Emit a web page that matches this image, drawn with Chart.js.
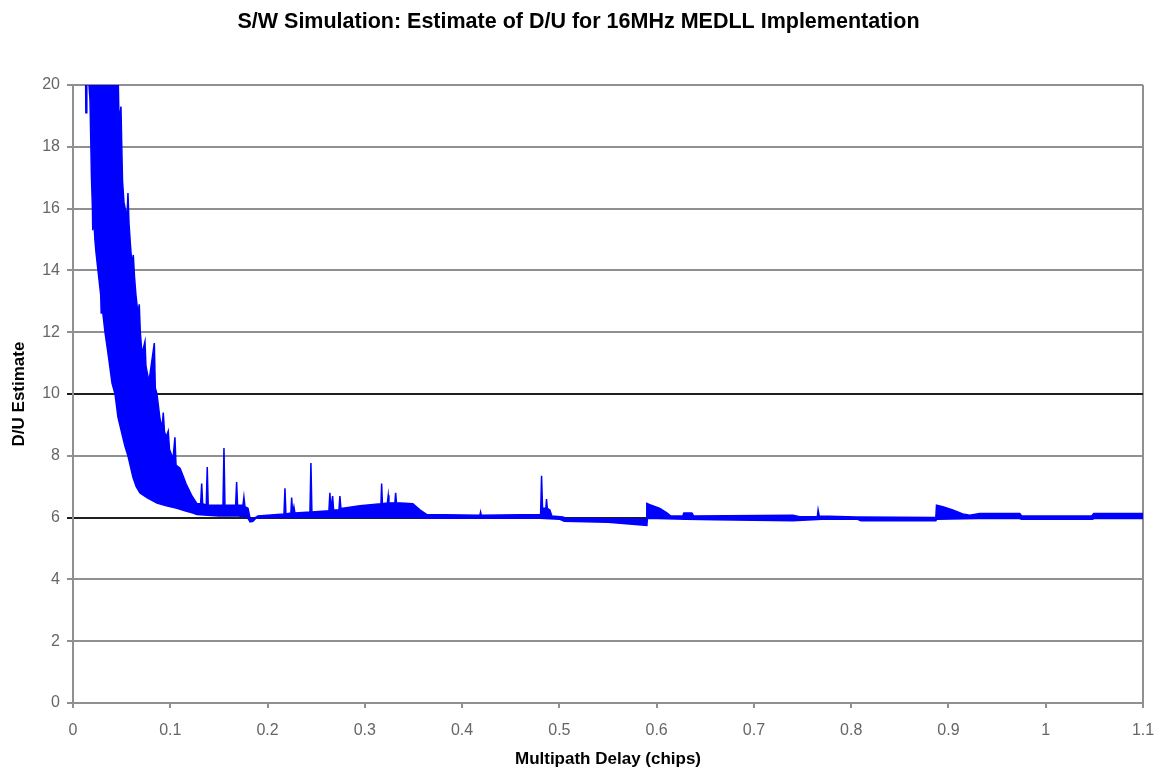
<!DOCTYPE html>
<html>
<head>
<meta charset="utf-8">
<title>S/W Simulation: Estimate of D/U for 16MHz MEDLL Implementation</title>
<script src="https://cdn.jsdelivr.net/npm/chart.js@4.4.1/dist/chart.umd.min.js"></script>
<style>
    html, body { margin: 0; padding: 0; background: #fff; }
    #wrap { width: 1157px; height: 772px; }
</style>
</head>
<body>
<div id="wrap"><canvas id="duChart" width="1157" height="772"></canvas></div>
<script>
// tick labels
const xTickLabels = ['0', '0.1', '0.2', '0.3', '0.4', '0.5', '0.6', '0.7', '0.8', '0.9', '1', '1.1'];
const yTickLabels = ['0', '2', '4', '6', '8', '10', '12', '14', '16', '18', '20'];

// the simulated D/U estimate is very noisy, so it is kept as the upper and lower
// envelope of the trace, filled in between
const upperX = [0.0128, 0.0440, 0.0452, 0.0466, 0.0473, 0.0493, 0.0500, 0.0509, 0.0524, 0.0555,
    0.0565, 0.0576, 0.0591, 0.0606, 0.0620, 0.0632, 0.0647, 0.0668, 0.0681, 0.0692,
    0.0709, 0.0740, 0.0750, 0.0781, 0.0836, 0.0846, 0.0863, 0.0894, 0.0915, 0.0928,
    0.0940, 0.0956, 0.0979, 0.0992, 0.1028, 0.1048, 0.1059, 0.1100, 0.1131, 0.1161,
    0.1192, 0.1223, 0.1274, 0.1312, 0.1323, 0.1333, 0.1370, 0.1380, 0.1390, 0.1542,
    0.1552, 0.1562, 0.1672, 0.1682, 0.1692, 0.1747, 0.1757, 0.1768, 0.1799, 0.1819,
    0.1850, 0.1901, 0.2169, 0.2179, 0.2189, 0.2240, 0.2248, 0.2258, 0.2271, 0.2281,
    0.2436, 0.2446, 0.2456, 0.2631, 0.2641, 0.2651, 0.2669, 0.2679, 0.2734, 0.2744,
    0.2754, 0.2775, 0.2950, 0.3166, 0.3173, 0.3181, 0.3232, 0.3241, 0.3248, 0.3309,
    0.3317, 0.3325, 0.3494, 0.3566, 0.3638, 0.4183, 0.4190, 0.4197, 0.4807, 0.4817,
    0.4827, 0.4861, 0.4868, 0.4876, 0.4902, 0.4923, 0.5036, 0.5067, 0.5894, 0.5899,
    0.5930, 0.6033, 0.6105, 0.6146, 0.6269, 0.6280, 0.6362, 0.6382, 0.7400, 0.7472,
    0.7652, 0.7660, 0.7672, 0.8058, 0.8870, 0.8877, 0.8942, 0.9044, 0.9147, 0.9219,
    0.9322, 0.9733, 0.9753, 1.0473, 1.0494, 1.1000];
const upperY = [21, 21, 20.0, 20.0, 18.8, 19.3, 18.2, 16.9, 16.2, 15.7,
    16.5, 15.5, 14.8, 14.2, 14.5, 13.8, 13.2, 12.6, 12.9, 12.0,
    11.3, 11.7, 10.9, 10.4, 11.65, 10.2, 10.0, 9.2, 8.9, 9.4,
    8.8, 8.6, 8.8, 8.2, 7.9, 8.6, 7.7, 7.6, 7.35, 7.1,
    6.9, 6.7, 6.45, 6.45, 7.1, 6.45, 6.4, 7.64, 6.4, 6.4,
    8.25, 6.4, 6.4, 7.15, 6.4, 6.4, 6.67, 6.35, 6.3, 6.0,
    5.95, 6.05, 6.12, 6.95, 6.12, 6.15, 6.65, 6.15, 6.35, 6.15,
    6.18, 7.77, 6.18, 6.22, 6.8, 6.25, 6.7, 6.25, 6.25, 6.7,
    6.3, 6.3, 6.38, 6.45, 7.1, 6.45, 6.47, 6.72, 6.47, 6.48,
    6.8, 6.48, 6.45, 6.25, 6.1, 6.08, 6.18, 6.08, 6.1, 7.35,
    6.3, 6.3, 6.6, 6.3, 6.25, 6.05, 6.02, 5.98, 5.95, 6.46,
    6.42, 6.3, 6.15, 6.05, 6.05, 6.15, 6.15, 6.05, 6.08, 6.03,
    6.03, 6.25, 6.05, 6.02, 6.0, 6.4, 6.35, 6.25, 6.12, 6.08,
    6.13, 6.13, 6.05, 6.05, 6.13, 6.13];

const lowerX = [0.0128, 0.0132, 0.0138, 0.0142, 0.0160, 0.0175, 0.0190, 0.0200, 0.0203, 0.0210,
    0.0225, 0.0236, 0.0257, 0.0285, 0.0290, 0.0300, 0.0329, 0.0365, 0.0401, 0.0432,
    0.0462, 0.0504, 0.0535, 0.0565, 0.0617, 0.0650, 0.0689, 0.0760, 0.0863, 0.0960,
    0.1069, 0.1150, 0.1233, 0.1274, 0.1500, 0.1700, 0.1790, 0.1820, 0.1850, 0.1880,
    0.2000, 0.2300, 0.2800, 0.3500, 0.3650, 0.4800, 0.5000, 0.5050, 0.5500, 0.5900,
    0.5905, 0.6300, 0.6600, 0.7400, 0.7700, 0.8060, 0.8100, 0.8870, 0.8880, 0.9300,
    0.9730, 0.9750, 1.0480, 1.0500, 1.1000];
const lowerY = [21, 19.1, 19.1, 21, 20.2, 19.5, 17.0, 16.0, 15.3, 16.0,
    15.0, 14.6, 14.0, 13.2, 12.6, 12.8, 12.0, 11.2, 10.35, 10.0,
    9.25, 8.7, 8.3, 8.0, 7.3, 7.0, 6.8, 6.65, 6.47, 6.38,
    6.3, 6.22, 6.15, 6.1, 6.05, 6.05, 6.02, 5.86, 5.88, 5.98,
    6.0, 6.0, 6.0, 6.0, 5.98, 5.98, 5.95, 5.88, 5.85, 5.75,
    5.98, 5.95, 5.93, 5.9, 5.95, 5.95, 5.9, 5.9, 5.95, 5.97,
    5.97, 5.95, 5.95, 5.97, 5.97];

const toPoints = (xs, ys) => xs.map((x, i) => ({ x: x, y: ys[i] }));

const BLUE = '#0000ff';
const GRID = '#909090';
const GRID_DARK = '#1e1e1e';
const FONT = '"Liberation Sans", Arial, sans-serif';

new Chart(document.getElementById('duChart'), {
    type: 'line',
    data: {
        datasets: [
            {
                label: 'D/U max',
                data: toPoints(upperX, upperY),
                borderColor: BLUE,
                borderWidth: 1.5,
                pointRadius: 0,
                tension: 0,
                fill: false,
                clip: 0
            },
            {
                label: 'D/U min',
                data: toPoints(lowerX, lowerY),
                borderColor: BLUE,
                backgroundColor: BLUE,
                borderWidth: 1.5,
                pointRadius: 0,
                tension: 0,
                fill: '-1',
                clip: 0
            }
        ]
    },
    options: {
        responsive: false,
        animation: false,
        events: [],
        layout: { padding: 0 },
        plugins: {
            legend: { display: false },
            tooltip: { enabled: false },
            title: {
                display: true,
                text: 'S/W Simulation: Estimate of D/U for 16MHz MEDLL Implementation',
                color: '#000',
                font: { family: FONT, size: 21.5, weight: 'bold' },
                padding: { top: 9, bottom: 50.2 }
            }
        },
        scales: {
            x: {
                type: 'linear',
                min: 0,
                max: 1.1,
                afterFit(scale) {
                    // fixed axis band and right margin so the plot ends where the original does
                    scale.height = 69;
                    scale.paddingLeft = 0;
                    scale.paddingRight = 14;
                },
                ticks: {
                    stepSize: 0.1,
                    padding: 13,
                    color: '#666',
                    font: { family: FONT, size: 16 },
                    callback: (v, i) => xTickLabels[i]
                },
                grid: {
                    // only the right-hand frame line, tick marks below the axis
                    color: ctx => ctx.index === xTickLabels.length - 1 ? GRID : 'rgba(0,0,0,0)',
                    tickColor: GRID,
                    lineWidth: 2,
                    tickLength: 5
                },
                border: { color: GRID, width: 2 },
                title: {
                    display: true,
                    text: 'Multipath Delay (chips)',
                    color: '#000',
                    font: { family: FONT, size: 17, weight: 'bold' },
                    padding: { top: 0, bottom: 2 }
                }
            },
            y: {
                min: 0,
                max: 20,
                afterFit(scale) { scale.width = 73; },
                ticks: {
                    stepSize: 2,
                    padding: 7,
                    color: '#666',
                    font: { family: FONT, size: 16 },
                    callback: (v, i) => yTickLabels[i]
                },
                grid: {
                    color: ctx => (ctx.tick.value === 6 || ctx.tick.value === 10) ? GRID_DARK : GRID,
                    lineWidth: 2,
                    tickLength: 6
                },
                border: { color: GRID, width: 2 },
                title: {
                    display: true,
                    text: 'D/U Estimate',
                    color: '#000',
                    font: { family: FONT, size: 17, weight: 'bold' },
                    padding: { top: 9.5, bottom: 0 }
                }
            }
        }
    }
});
</script>
</body>
</html>
